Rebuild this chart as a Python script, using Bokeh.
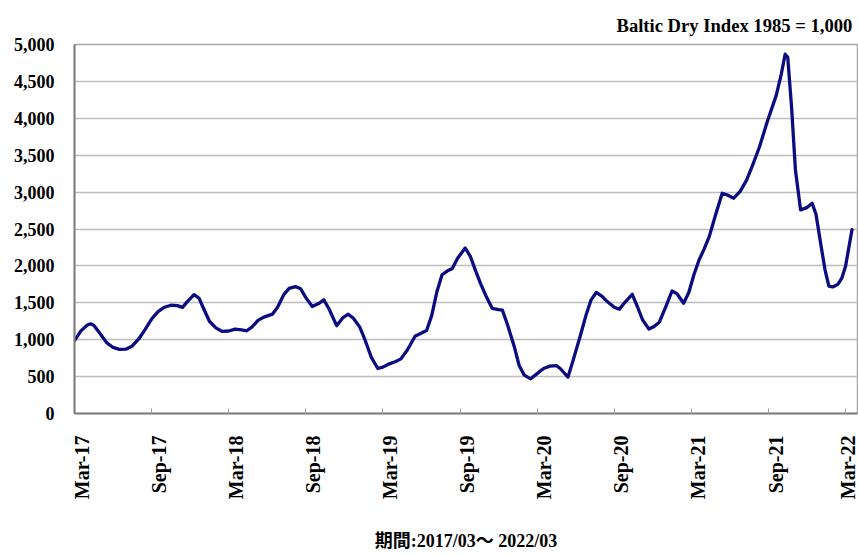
from bokeh.plotting import figure
from bokeh.models import (Range1d, FixedTicker, CustomJSTickFormatter,
                          NumeralTickFormatter, LinearAxis, Title)
from bokeh.embed import file_html
from bokeh.resources import INLINE

# ---- data (months after Mar-2017, Baltic Dry Index) ----
month_offset = [
    0.0, 0.5, 1.0, 1.25, 1.5, 2.0, 2.5, 3.0, 3.5, 4.0, 4.5, 5.0, 5.5, 6.0, 6.5,
    7.0, 7.5, 8.0, 8.4, 8.8, 9.3, 9.7, 10.0, 10.5, 11.0, 11.5, 12.0, 12.5, 13.0,
    13.4, 13.8, 14.3, 14.8, 15.4, 15.8, 16.3, 16.7, 17.2, 17.6, 18.0, 18.5, 19.0,
    19.4, 19.8, 20.4, 20.9, 21.3, 21.7, 22.2, 22.6, 23.1, 23.6, 24.0, 24.5, 25.0,
    25.4, 25.9, 26.5, 27.0, 27.4, 27.8, 28.2, 28.6, 29.0, 29.4, 29.8, 30.4, 30.8,
    31.2, 31.6, 32.0, 32.5, 33.0, 33.3, 33.7, 34.2, 34.6, 35.0, 35.5, 36.0, 36.5,
    37.0, 37.5, 37.8, 38.4, 38.8, 39.4, 39.8, 40.2, 40.6, 41.0, 41.5, 42.0, 42.4,
    42.8, 43.4, 43.8, 44.2, 44.7, 45.1, 45.5, 46.0, 46.5, 46.9, 47.4, 47.8, 48.2,
    48.6, 49.0, 49.4, 49.9, 50.4, 50.8, 51.3, 51.8, 52.3, 52.8, 53.3, 53.9, 54.6,
    55.0, 55.3, 55.5, 55.8, 56.1, 56.5, 57.0, 57.4, 57.7, 58.1, 58.4, 58.7, 59.0,
    59.4, 59.7, 60.0, 60.5,
]
bdi = [
    987, 1120, 1200, 1215, 1195, 1080, 960, 895, 868, 872, 915, 1010, 1140, 1280, 1380,
    1440, 1467, 1462, 1438, 1520, 1610, 1560, 1440, 1250, 1160, 1112, 1118, 1144, 1132,
    1121, 1170, 1265, 1310, 1346, 1440, 1615, 1695, 1719, 1690, 1570, 1450, 1490,
    1540, 1420, 1190, 1300, 1346, 1290, 1170, 1000, 760, 610, 628, 673, 705,
    740, 860, 1046, 1090, 1125, 1330, 1650, 1880, 1930, 1965, 2100, 2243, 2130,
    1940, 1760, 1600, 1425, 1408, 1400, 1200, 919, 650, 520, 470, 540, 610,
    642, 648, 610, 494, 720, 1077, 1330, 1540, 1640, 1595, 1510, 1440, 1413,
    1500, 1615, 1450, 1270, 1144, 1180, 1234, 1440, 1660, 1620, 1494, 1640, 1880,
    2080, 2230, 2400, 2700, 2984, 2960, 2917, 3010, 3163, 3380, 3611, 3950, 4307,
    4600, 4868, 4830, 4150, 3300, 2759, 2790, 2849, 2700, 2265, 1950, 1727, 1715,
    1750, 1830, 1996, 2490,
]
tick_months = [0, 6, 12, 18, 24, 30, 36, 42, 48, 54, 60]
tick_labels = ["Mar-17", "Sep-17", "Mar-18", "Sep-18", "Mar-19", "Sep-19",
               "Mar-20", "Sep-20", "Mar-21", "Sep-21", "Mar-22"]
y_ticks = [0, 500, 1000, 1500, 2000, 2500, 3000, 3500, 4000, 4500, 5000]
chart_title = "Baltic Dry Index 1985 = 1,000"
caption = "期間:2017/03～ 2022/03"

FONT = "Liberation Serif"
CJK_FONT = "Liberation Serif, Noto Sans CJK TC"

p = figure(width=858, height=554, output_backend="svg", toolbar_location=None,
           x_range=Range1d(0, 60.93), y_range=Range1d(0, 5000),
           min_border_left=74, min_border_right=1, min_border_top=44,
           min_border_bottom=139, x_axis_type=None)

p.background_fill_color = "white"
p.border_fill_color = "white"
p.outline_line_color = "#a6a6a6"
p.outline_line_width = 1.5

# title (top right)
top_title = Title(text=chart_title, align="left", offset=542, standoff=17,
                  text_font=FONT, text_font_style="bold",
                  text_font_size="18.6px", text_color="black")
p.add_layout(top_title, "above")

# grid
p.ygrid.ticker = FixedTicker(ticks=y_ticks)
p.ygrid.grid_line_color = "#bdbdbd"
p.ygrid.grid_line_width = 1.3

# y axis
ya = p.yaxis[0]
ya.ticker = FixedTicker(ticks=y_ticks)
ya.formatter = NumeralTickFormatter(format="0,0")
ya.major_tick_in = 0
ya.major_tick_out = 0
ya.minor_tick_line_color = None
ya.major_label_standoff = 20
ya.major_label_text_font = FONT
ya.major_label_text_font_style = "bold"
ya.major_label_text_font_size = "18px"
ya.major_label_text_color = "black"
ya.axis_line_color = "#808080"
ya.axis_line_width = 2

# x axis 1: line + small inner ticks, no labels
xa1 = LinearAxis(ticker=FixedTicker(ticks=tick_months),
                 formatter=CustomJSTickFormatter(code="return '';"))
xa1.major_tick_in = 5
xa1.major_tick_out = 0
xa1.major_tick_line_color = "#a0a0a0"
xa1.minor_tick_line_color = None
xa1.major_label_standoff = 0
xa1.axis_line_color = "#808080"
xa1.axis_line_width = 2
p.add_layout(xa1, "below")

# x axis 2: rotated labels (placed just right of each tick) + period caption
label_shift = 0.55
xa2 = LinearAxis(ticker=FixedTicker(ticks=[m + label_shift for m in tick_months]),
                 formatter=CustomJSTickFormatter(args=dict(labels=tick_labels),
                                                 code="return labels[index];"))
xa2.major_tick_in = 0
xa2.major_tick_out = 0
xa2.minor_tick_line_color = None
xa2.axis_line_color = None
xa2.major_label_orientation = 1.5707963
xa2.major_label_standoff = 22
xa2.major_label_text_font = FONT
xa2.major_label_text_font_style = "bold"
xa2.major_label_text_font_size = "20px"
xa2.major_label_text_color = "black"
xa2.axis_label = caption
xa2.axis_label_standoff = 29
xa2.axis_label_text_font = CJK_FONT
xa2.axis_label_text_font_style = "bold"
xa2.axis_label_text_font_size = "18px"
xa2.axis_label_text_color = "black"
p.add_layout(xa2, "below")

# data line
p.line(month_offset, bdi, line_color="#0c0c82", line_width=3.3,
       line_join="round", line_cap="round")

open("out.html", "w").write(file_html(p, INLINE))
